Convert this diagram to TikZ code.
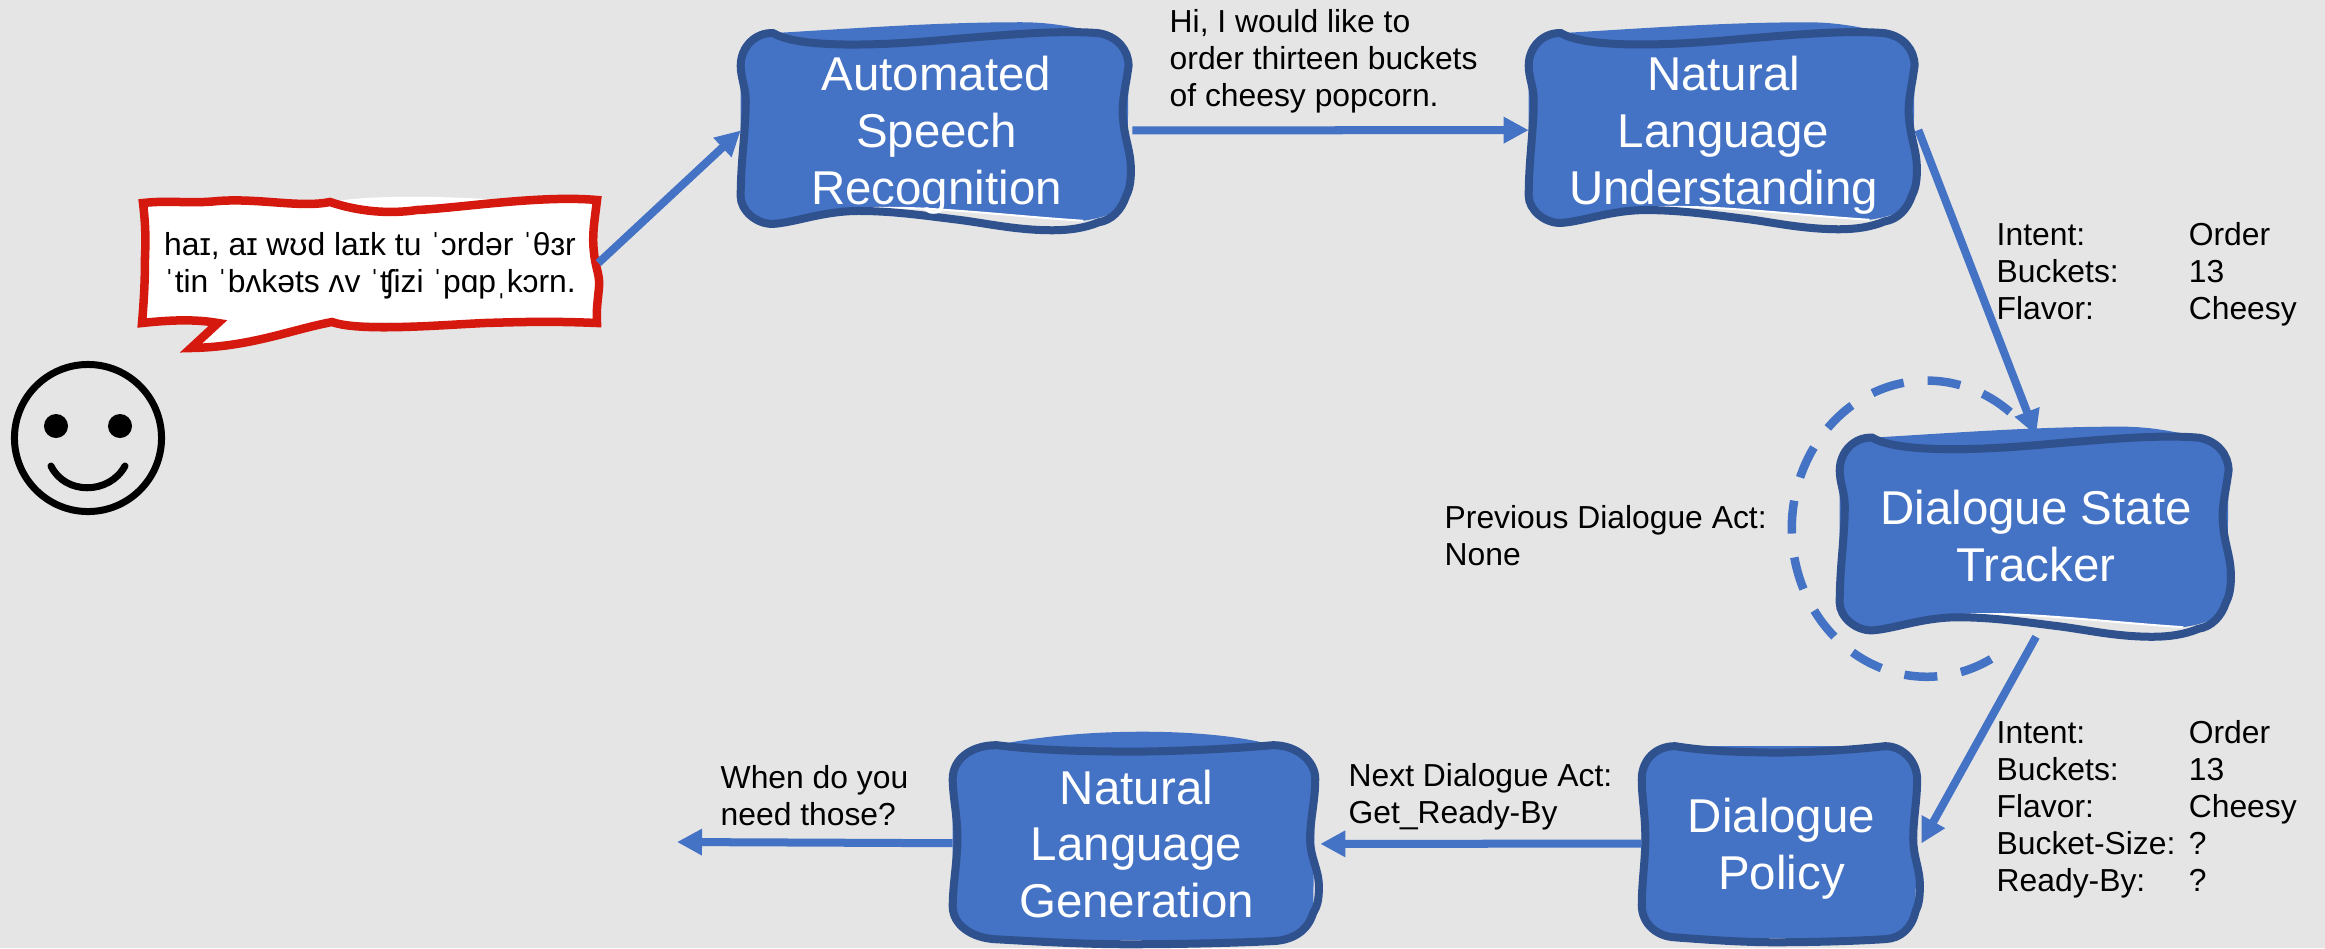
\documentclass[tikz,border=0pt]{standalone}
\usepackage{fontspec}
\setmainfont{Liberation Sans}
\usetikzlibrary{arrows.meta, backgrounds}

\definecolor{pagegray}{HTML}{E5E5E5}
\definecolor{stagefill}{HTML}{4472C4}
\definecolor{stageline}{HTML}{2F528F}
\definecolor{bubblered}{HTML}{D5190F}

\newcommand{\titledrop}{\rule{0pt}{12.7pt}}

\newcommand{\wavyshape}[3]{
  \begin{scope}[on background layer, shift={(#1.south west)}, x=#2cm, y=#3cm]
    \fill[stagefill] (0,.83) .. controls (0,.93) and (.04,1) .. (.083,.995)
      .. controls (.3,1.02) and (.5,1.05) .. (.72,1.05) .. controls (.8,1.05) and (.87,1.02) .. (.917,.995)
      .. controls (.965,.98) and (.994,.91) .. (.994,.83) -- (.99,.17)
      .. controls (.975,.1) and (.95,.07) .. (.878,.048)
      .. controls (.7,.07) and (.5,.12) .. (.353,.113) .. controls (.25,.105) and (.15,.07) .. (.083,.032)
      .. controls (.04,.03) and (0,.1) .. (0,.17) -- cycle;
    \draw[white, line width=.02cm] (.878,.048) .. controls (.7,.07) and (.5,.12) .. (.353,.113)
      .. controls (.25,.105) and (.15,.07) .. (.083,.032);
    \draw[stageline, line width=.08cm] (0,.83) .. controls (0,.93) and (.04,1) .. (.083,.995)
      .. controls (.14,.93) and (.3,.92) .. (.545,.965) .. controls (.7,.99) and (.82,1.01) .. (.917,.995)
      .. controls (.965,.98) and (.994,.91) .. (.994,.83)
      .. controls (.985,.7) and (.975,.65) .. (.98,.556) .. controls (.985,.45) and (1,.4) .. (1,.3)
      .. controls (1,.24) and (.995,.2) .. (.987,.17) .. controls (.975,.1) and (.95,.05) .. (.917,.04)
      .. controls (.88,.01) and (.84,0) .. (.8,0) .. controls (.7,0) and (.62,.04) .. (.545,.056)
      .. controls (.45,.08) and (.37,.1) .. (.288,.097) .. controls (.2,.09) and (.14,.04) .. (.083,.032)
      .. controls (.04,.03) and (0,.1) .. (0,.17) .. controls (0,.35) and (.013,.5) .. (.013,.653)
      .. controls (.013,.72) and (0,.77) .. (0,.83) -- cycle;
  \end{scope}
}

\newcommand{\plainshape}[4]{
  \begin{scope}[on background layer, shift={(#1.south west)}, x=#2cm, y=#3cm]
    \fill[stagefill] (0,.83) .. controls (0,.93) and (.05,1) .. (.12,1)
      .. controls (.35,#4) and (.7,#4) .. (.875,1)
      .. controls (.94,1) and (.99,.92) .. (.99,.83) -- (.984,.156)
      .. controls (.97,.07) and (.93,.02) .. (.875,.016) -- (.12,.025)
      .. controls (.05,.03) and (0,.1) .. (0,.19) -- cycle;
    \draw[stageline, line width=.08cm] (0,.83) .. controls (0,.93) and (.05,1) .. (.12,1)
      .. controls (.25,.97) and (.38,.97) .. (.48,.967) .. controls (.65,.97) and (.78,.985) .. (.875,1)
      .. controls (.94,1) and (.99,.92) .. (.99,.83)
      .. controls (.99,.72) and (.976,.63) .. (.976,.53) .. controls (.976,.43) and (1,.38) .. (1,.287)
      .. controls (1,.22) and (.995,.19) .. (.984,.156) .. controls (.97,.07) and (.93,.02) .. (.875,.016)
      .. controls (.75,.005) and (.6,0) .. (.48,0) .. controls (.35,0) and (.22,.015) .. (.12,.025)
      .. controls (.05,.03) and (0,.1) .. (0,.19) .. controls (0,.3) and (.013,.42) .. (.013,.53)
      .. controls (.013,.65) and (0,.74) .. (0,.83) -- cycle;
  \end{scope}
}

\begin{document}
\begin{tikzpicture}[
  x=0.01cm, y=-0.01cm,
  stage/.style 2 args={inner sep=0, minimum width=#1cm, minimum height=#2cm, align=center, text=white,
    font=\fontsize{13.5}{16.2}\selectfont},
  caption/.style={inner sep=0, anchor=west, align=left, font=\fontsize{9.05}{10.5}\selectfont},
  arrow/.style={-{Triangle[length=.25cm,width=.25cm]}, stagefill, line width=.08cm},
  ring/.style={stagefill, line width=.085cm, dash pattern=on .33cm off .24cm},
  faceline/.style={black, line width=.07cm, line cap=round}
]
\useasboundingbox (0,0) rectangle (2325,948);
\begin{scope}[on background layer]
\fill[pagegray] (0,0) rectangle (2325,948);
\end{scope}

\node[stage={3.90}{1.98}] (asr) at (936.5,130.5) {\titledrop Automated\\Speech\\Recognition};
\node[stage={3.88}{1.97}] (nlu) at (1723.5,130) {\titledrop Natural\\Language\\Understanding};
\node[stage={3.91}{2.00}] (dst) at (2036,536) {Dialogue State\\Tracker};
\node[stage={2.78}{1.96}] (policy) at (1781.5,843.5) {\titledrop Dialogue\\Policy};
\node[stage={3.66}{1.99}] (nlg) at (1136.5,844) {Natural\\Language\\Generation};

\node[caption, anchor=center, align=center, minimum width=4.55cm, minimum height=1.23cm] (bubble) at (370,263)
  {\rule{0pt}{8.2pt}haɪ, aɪ wʊd laɪk tu ˈɔrdər ˈθɜr\\ˈtin ˈbʌkəts ʌv ˈʧizi ˈpɑpˌkɔrn.};

\wavyshape{asr}{3.90}{1.98}
\wavyshape{nlu}{3.88}{1.97}
\wavyshape{dst}{3.91}{2.00}
\plainshape{policy}{2.78}{1.96}{1}
\plainshape{nlg}{3.66}{1.99}{1.09}

\begin{scope}[on background layer]
\fill[white] (143,203) .. controls (170,200) and (190,204) .. (218,201) .. controls (260,200) and (300,206) .. (330,202)
  .. controls (370,195) and (440,195) .. (533,202) -- (597,200) -- (597,323) -- (332,322)
  .. controls (290,330) and (250,347) .. (191,348) -- (218,323) -- (142,323) -- cycle;
\draw[bubblered, line width=.085cm] (143,203) .. controls (170,200) and (190,204) .. (218,201)
  .. controls (260,198) and (300,208) .. (330,202) .. controls (360,212) and (390,214) .. (417,210)
  .. controls (460,208) and (540,195) .. (597,200) .. controls (594,225) and (592,235) .. (594,253)
  .. controls (596,270) and (600,275) .. (599,287) .. controls (598,300) and (596,310) .. (597,323)
  .. controls (550,321) and (520,322) .. (485,323) .. controls (440,325) and (360,332) .. (332,322)
  .. controls (290,330) and (250,347) .. (191,348) -- (218,323)
  .. controls (195,319) and (170,320) .. (142,323) .. controls (144,300) and (145,280) .. (145,257)
  .. controls (146,235) and (145,220) .. (143,203) -- cycle;
\end{scope}

\coordinate (reply) at (677,842);
\coordinate (ringstart) at (2010,412);

\draw[arrow] (bubble.east) -- (asr.west);
\draw[arrow] (asr) -- (nlu);
\draw[arrow] (nlu.east) -- (dst.north);
\draw[arrow] (dst.south) -- (policy.east);
\draw[arrow] (policy) -- (nlg);
\draw[arrow] (nlg) -- (reply);
\draw[ring] (ringstart) arc[start angle=52, end angle=300, x radius=1.35cm, y radius=1.48cm];

\draw[faceline] (88,438) circle[radius=.735cm];
\fill[black] (56,426) circle[radius=.12cm];
\fill[black] (120,426) circle[radius=.12cm];
\draw[faceline] (51,466) .. controls (65,495) and (109,495) .. (125,466);

\node[caption] (heard) at (1169,61) {Hi, I would like to\\order thirteen buckets\\of cheesy popcorn.};
\node[caption] (slots) at (1996,275) {\begin{tabular}{@{}p{1.92cm}@{}l@{}}
  Intent: & Order\\ Buckets: & 13\\ Flavor: & Cheesy\end{tabular}};
\node[caption] (state) at (1996,810) {\begin{tabular}{@{}p{1.92cm}@{}l@{}}
  Intent: & Order\\ Buckets: & 13\\ Flavor: & Cheesy\\ Bucket-Size: & ?\\ Ready-By: & ?\end{tabular}};
\node[caption] (prevact) at (1444,536) {Previous Dialogue Act:\\None};
\node[caption] (nextact) at (1348,797) {Next Dialogue Act:\\Get\_Ready-By};
\node[caption] (answer) at (720,796) {When do you\\need those?};
\end{tikzpicture}
\end{document}
